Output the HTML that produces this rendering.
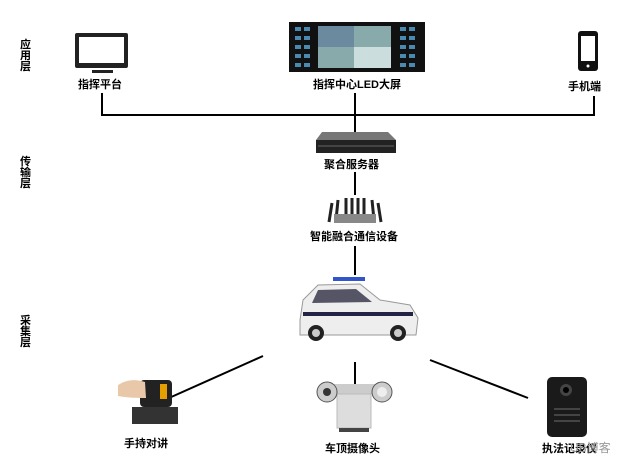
<!DOCTYPE html>
<html><head><meta charset="utf-8"><style>
body{margin:0;background:#fff;width:640px;height:462px;overflow:hidden}
text{font-family:"Liberation Sans","Noto Sans CJK SC",sans-serif;font-weight:bold;font-size:11px;fill:#000}
</style></head><body>
<svg width="640" height="462" viewBox="0 0 640 462">
<g style="font-size:10px;font-weight:normal">
<text x="20" y="48">应</text><text x="20" y="59">用</text><text x="20" y="70">层</text>
<text x="20" y="165">传</text><text x="20" y="176">输</text><text x="20" y="187">层</text>
<text x="20" y="324">采</text><text x="20" y="335">集</text><text x="20" y="346">层</text>
</g>
<!-- monitor -->
<rect x="75" y="33" width="53" height="35" rx="2" fill="#222"/>
<rect x="79" y="37" width="45" height="26" fill="#fff"/>
<rect x="92" y="70" width="21" height="3" fill="#222"/>
<text x="78" y="88">指挥平台</text>
<!-- LED wall -->
<rect x="289" y="22" width="136" height="50" fill="#111"/>
<rect x="318" y="26" width="73" height="42" fill="#8aa"/>
<rect x="318" y="26" width="36" height="21" fill="#6b8aa0"/>
<rect x="354" y="47" width="37" height="21" fill="#cdd"/>
<g fill="#4a8ab0"><rect x="295" y="27" width="6" height="4"/><rect x="304" y="27" width="6" height="4"/><rect x="295" y="36" width="6" height="4"/><rect x="304" y="36" width="6" height="4"/><rect x="295" y="45" width="6" height="4"/><rect x="304" y="45" width="6" height="4"/><rect x="295" y="54" width="6" height="4"/><rect x="304" y="54" width="6" height="4"/><rect x="295" y="63" width="6" height="4"/><rect x="304" y="63" width="6" height="4"/>
<rect x="400" y="27" width="6" height="4"/><rect x="409" y="27" width="6" height="4"/><rect x="400" y="36" width="6" height="4"/><rect x="409" y="36" width="6" height="4"/><rect x="400" y="45" width="6" height="4"/><rect x="409" y="45" width="6" height="4"/><rect x="400" y="54" width="6" height="4"/><rect x="409" y="54" width="6" height="4"/><rect x="400" y="63" width="6" height="4"/><rect x="409" y="63" width="6" height="4"/></g>
<text x="313" y="88">指挥中心LED大屏</text>
<!-- phone -->
<rect x="578" y="31" width="20" height="40" rx="3" fill="#111"/>
<rect x="581" y="36" width="14" height="25" fill="#fff"/>
<circle cx="588" cy="66" r="1.5" fill="#fff"/>
<text x="568" y="90">手机端</text>
<!-- connectors -->
<g stroke="#000" stroke-width="2" fill="none">
<polyline points="102,93 102,115 594,115 594,96"/>
<line x1="355" y1="93" x2="355" y2="132"/>
<line x1="355" y1="172" x2="355" y2="195"/>
<line x1="355" y1="246" x2="355" y2="275"/>
<line x1="263" y1="356" x2="169" y2="398"/>
<line x1="355" y1="362" x2="355" y2="408"/>
<line x1="430" y1="360" x2="528" y2="398"/>
</g>
<!-- server -->
<polygon points="322,132 388,132 396,140 316,140" fill="#777"/>
<rect x="316" y="140" width="80" height="13" fill="#222"/>
<line x1="318" y1="146" x2="394" y2="146" stroke="#666" stroke-width="1"/>
<text x="324" y="168">聚合服务器</text>
<!-- router -->
<g stroke="#222" stroke-width="3"><line x1="332" y1="203" x2="329" y2="222"/><line x1="338" y1="200" x2="336" y2="220"/><line x1="346" y1="198" x2="346" y2="215"/><line x1="352" y1="198" x2="352" y2="215"/><line x1="358" y1="198" x2="358" y2="215"/><line x1="364" y1="198" x2="364" y2="215"/><line x1="372" y1="200" x2="374" y2="220"/><line x1="378" y1="203" x2="381" y2="222"/></g>
<rect x="334" y="214" width="42" height="9" fill="#888"/>
<text x="310" y="240">智能融合通信设备</text>
<!-- car -->
<rect x="333" y="277" width="32" height="4" fill="#3355cc"/>
<path d="M300,320 L303,300 L318,285 L360,284 L380,300 L410,305 L418,318 L416,335 L300,335 Z" fill="#eee" stroke="#999"/>
<path d="M318,290 L356,289 L372,302 L312,303 Z" fill="#556"/>
<rect x="303" y="312" width="110" height="4" fill="#224"/>
<circle cx="316" cy="333" r="8" fill="#222"/><circle cx="398" cy="333" r="8" fill="#222"/>
<circle cx="316" cy="333" r="4" fill="#ccc"/><circle cx="398" cy="333" r="4" fill="#ccc"/>
<!-- walkie -->
<rect x="132" y="407" width="46" height="17" fill="#333"/>
<rect x="140" y="380" width="32" height="27" rx="4" fill="#222"/>
<rect x="160" y="384" width="7" height="15" fill="#e5a000"/>
<path d="M118,385 Q130,377 145,382 L146,398 Q128,398 118,396 Z" fill="#e8c8a8"/>
<text x="124" y="447">手持对讲</text>
<!-- camera -->
<rect x="330" y="384" width="50" height="10" rx="4" fill="#ccc"/>
<rect x="337" y="394" width="34" height="34" fill="#ddd" stroke="#bbb"/>
<circle cx="327" cy="392" r="10" fill="#ccc" stroke="#555"/><circle cx="327" cy="392" r="4" fill="#333"/>
<circle cx="382" cy="392" r="10" fill="#ccc" stroke="#555"/><circle cx="382" cy="392" r="5" fill="#eee"/>
<rect x="339" y="428" width="30" height="4" fill="#444"/>
<text x="325" y="452">车顶摄像头</text>
<!-- bodycam -->
<rect x="547" y="377" width="40" height="60" rx="5" fill="#1a1a1a"/>
<circle cx="566" cy="390" r="6" fill="#444"/><circle cx="566" cy="390" r="3" fill="#000"/>
<g fill="#444"><rect x="554" y="408" width="26" height="2"/><rect x="554" y="414" width="26" height="2"/><rect x="554" y="420" width="26" height="2"/></g>
<text x="542" y="452">执法记录仪</text>
<text x="570" y="452" style="font-weight:normal;fill:#999;font-size:12px">UB博客</text>
</svg>
</body></html>
